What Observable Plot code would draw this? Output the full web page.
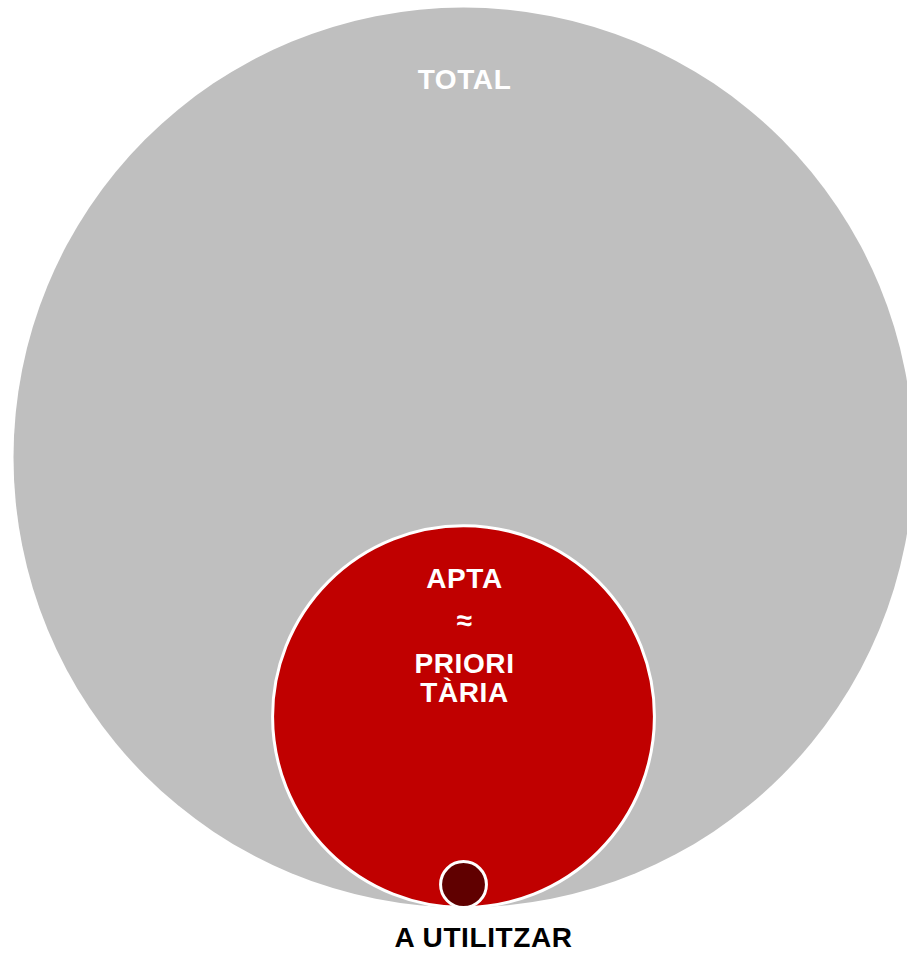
<!DOCTYPE html>
<html>
<head>
<meta charset="utf-8">
<script src="https://cdn.jsdelivr.net/npm/d3@7"></script>
<script src="https://cdn.jsdelivr.net/npm/@observablehq/plot@0.6"></script>
<style>
  html, body { margin: 0; padding: 0; background: #ffffff; }
  svg { display: block; }
  svg text { letter-spacing: 0.6px; }
</style>
</head>
<body>
<div id="chart"></div>
<script>
// Nested circles (area proportional to value), all tangent at the bottom
const names = ["TOTAL", "APTA", "A UTILITZAR"];
const values = [100, 18.0, 0.26];

// Label lines: which circle, text
const labelCircle = ["TOTAL", "APTA", "APTA", "APTA", "APTA", "A UTILITZAR"];
const labelText = ["TOTAL", "APTA", "≈", "PRIORI", "TÀRIA", "A UTILITZAR"];

const circles = names.map((name, i) => ({name, value: values[i]}));
const valueOf = Object.fromEntries(circles.map(d => [d.name, d.value]));
const labels = labelText.map((text, i) => ({circle: labelCircle[i], text, line: i}));

// offsets (px) of each label line from its anchor (top of circle or bottom for the small one)
const labelDy = [73, 53, 95, 138, 167, 31];
const labelDx = [1, 1, 1, 1, 1, 20];
const labelColor = ["white", "white", "white", "white", "white", "black"];
const labelAnchorTop = [true, true, true, true, true, false];

const font = "'Liberation Sans', Arial, Helvetica, sans-serif";

const textMarks = labels.map((d, i) => Plot.text([d], {
  x: () => 0,
  y: e => labelAnchorTop[i] ? 2 * Math.sqrt(valueOf[e.circle]) : 0,
  text: "text",
  dy: labelDy[i],
  dx: labelDx[i],
  fill: labelColor[i],
  fontSize: 28,
  fontWeight: "bold",
  fontFamily: font,
  textAnchor: "middle"
}));

const chart = Plot.plot({
  width: 907,
  height: 954,
  marginTop: 0,
  marginBottom: 0,
  marginLeft: 19,
  marginRight: 0,
  x: {domain: [-1, 1], axis: null},
  y: {domain: [0, 20], range: [907, 7], axis: null},
  r: {type: "sqrt", domain: [0, 100], range: [0, 450]},
  color: {domain: names, range: ["#bfbfbf", "#c00000", "#600000"]},
  style: {fontFamily: font, background: "white", overflow: "hidden"},
  marks: [
    Plot.dot(circles.filter(d => d.name === "TOTAL"), {
      x: () => 0,
      y: d => Math.sqrt(d.value),
      r: "value",
      fill: "name",
      stroke: "none"
    }),
    Plot.dot(circles.filter(d => d.name !== "TOTAL"), {
      x: () => 0,
      y: d => Math.sqrt(d.value),
      r: "value",
      fill: "name",
      stroke: "white",
      strokeWidth: 3
    }),
    ...textMarks
  ]
});

document.getElementById("chart").appendChild(chart);
</script>
</body>
</html>
